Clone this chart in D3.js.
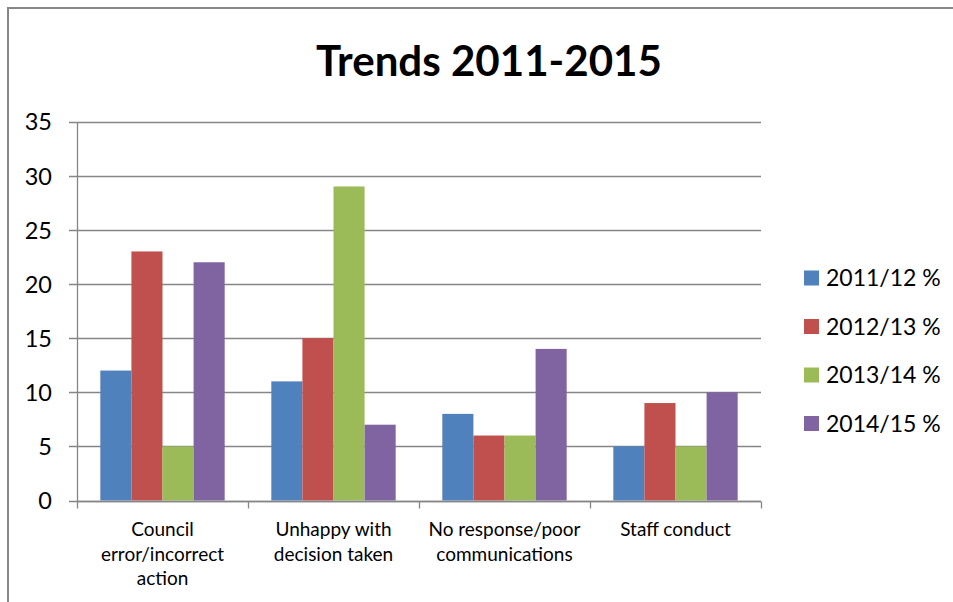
<!DOCTYPE html>
<html>
<head>
<meta charset="utf-8">
<script src="https://cdn.jsdelivr.net/npm/d3@7"></script>
<style>
  html, body { margin: 0; padding: 0; background: #fff; }
  svg { display: block; font-family: Lato, "Open Sans", sans-serif; }
</style>
</head>
<body>
<svg id="chart" width="953" height="602"></svg>
<script>
const title = "Trends 2011-2015";
const categories = ["Council error/incorrect action", "Unhappy with decision taken", "No response/poor communications", "Staff conduct"];
const seriesNames = ["2011/12 %", "2012/13 %", "2013/14 %", "2014/15 %"];
const values2011 = [12, 11, 8, 5];
const values2012 = [23, 15, 6, 9];
const values2013 = [5, 29, 6, 5];
const values2014 = [22, 7, 14, 10];
const yTicks = [0, 5, 10, 15, 20, 25, 30, 35];
const colors = ["#4F81BD", "#C0504D", "#9BBB59", "#8064A2"];

const seriesValues = [values2011, values2012, values2013, values2014];
const rows = categories.map((c, i) => ({ cat: c, vals: seriesNames.map((s, j) => ({ s, v: seriesValues[j][i], j })) }));

const svg = d3.select("#chart");
const gridColor = "#868686";

// outer border
svg.append("rect").attr("x", 8).attr("y", 8).attr("width", 1000).attr("height", 700)
  .attr("fill", "#fff").attr("stroke", "#878787").attr("stroke-width", 2);

const plot = { left: 77, right: 761, top: 121.5, bottom: 500.5 };

const x0 = d3.scaleBand().domain(categories).range([plot.left, plot.right]).padding(0);
const x1 = d3.scaleBand().domain(seriesNames).range([0, x0.bandwidth()]).paddingInner(0).paddingOuter(0.75);
const y = d3.scaleLinear().domain([0, 35]).range([plot.bottom, plot.top]);

// gridlines
svg.append("g").selectAll("line").data(yTicks).join("line")
  .attr("x1", plot.left - 8).attr("x2", plot.right)
  .attr("y1", d => Math.round(y(d)) + 0.5).attr("y2", d => Math.round(y(d)) + 0.5)
  .attr("stroke", gridColor).attr("stroke-width", 1.3);

// bars
const groups = svg.append("g").selectAll("g").data(rows).join("g")
  .attr("transform", d => `translate(${x0(d.cat)},0)`);
groups.selectAll("rect").data(d => d.vals).join("rect")
  .attr("x", d => x1(d.s))
  .attr("width", x1.bandwidth())
  .attr("y", d => y(d.v))
  .attr("height", d => y(0) - y(d.v))
  .attr("fill", d => colors[d.j]);

// y axis
const yAxis = d3.axisLeft(y).tickValues(yTicks).tickSize(0).tickPadding(0).tickFormat(d3.format("d"));
const gy = svg.append("g").attr("transform", `translate(${plot.left},0)`).call(yAxis);
gy.select(".domain").attr("stroke", gridColor).attr("stroke-width", 1.3);
gy.selectAll("text").attr("x", -25).attr("dy", "0.36em").attr("font-size", 23.5).attr("fill", "#000")
  .attr("font-family", "Lato, sans-serif");

// x axis
const xAxis = d3.axisBottom(x0).tickSize(0).tickFormat("");
const gx = svg.append("g").attr("transform", `translate(0,${Math.round(y(0)) + 0.5})`).call(xAxis);
gx.select(".domain").remove();
gx.append("line").attr("x1", plot.left).attr("x2", plot.right).attr("stroke", gridColor).attr("stroke-width", 1.3);
const boundaries = categories.map(c => x0(c)).concat([plot.right]);
gx.selectAll("line.bt").data(boundaries).join("line").attr("class", "bt")
  .attr("x1", d => Math.round(d) + 0.5).attr("x2", d => Math.round(d) + 0.5)
  .attr("y1", 0).attr("y2", 7).attr("stroke", gridColor).attr("stroke-width", 1.3);

// category labels with wrapping
const labelG = svg.append("g");
const catFont = 19;
categories.forEach(c => {
  const t = labelG.append("text").attr("text-anchor", "middle").attr("font-size", catFont).attr("fill", "#000");
  const cx = x0(c) + x0.bandwidth() / 2;
  const words = c.split(" ");
  let lines = [], line = [];
  const probe = labelG.append("text").attr("font-size", catFont);
  words.forEach(w => {
    const test = line.concat([w]).join(" ");
    probe.text(test);
    if (probe.node().getComputedTextLength() > 166 && line.length) { lines.push(line.join(" ")); line = [w]; }
    else line.push(w);
  });
  lines.push(line.join(" "));
  probe.remove();
  lines.forEach((l, i) => t.append("tspan").attr("x", cx).attr("y", 536 + i * 24.5).text(l));
});

// title
const tt = svg.append("text").attr("x", 489).attr("y", 76).attr("text-anchor", "middle")
  .attr("font-weight", "bold").attr("font-size", 44).attr("fill", "#000").text(title);
const tw = tt.node().getComputedTextLength();
tt.attr("font-size", 44 * 346 / tw);

// legend
const lg = svg.append("g").selectAll("g").data(seriesNames).join("g")
  .attr("transform", (d, i) => `translate(804,${278 + i * 48.5})`);
lg.append("rect").attr("x", 0).attr("y", -7.5).attr("width", 15).attr("height", 15).attr("fill", (d, i) => colors[i]);
lg.append("text").attr("x", 22).attr("dy", "0.36em").attr("font-size", 23).attr("fill", "#000").text(d => d);
</script>
</body>
</html>
